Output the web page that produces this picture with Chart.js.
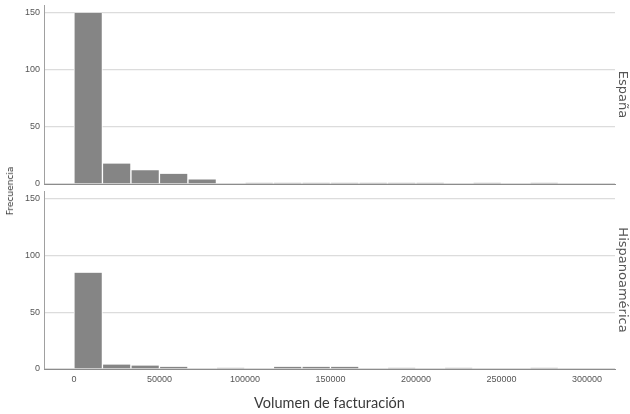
<!DOCTYPE html>
<html>
<head>
<meta charset="utf-8">
<script src="https://cdn.jsdelivr.net/npm/chart.js@4/dist/chart.umd.min.js"></script>
<style>
  html, body { margin: 0; padding: 0; background: #fff; }
  #wrap { position: relative; width: 630px; height: 414px; overflow: hidden; }
  #top { position: absolute; left: 0; top: 0; }
  #bottom { position: absolute; left: 0; top: 190px; }
  #ylabel {
    position: absolute; left: 10px; top: 191px;
    transform: translate(-50%, -50%) rotate(-90deg);
    font: 9px "DejaVu Sans", sans-serif; color: #333; white-space: nowrap;
  }
</style>
</head>
<body>
<div id="wrap">
  <canvas id="top" width="630" height="190"></canvas>
  <canvas id="bottom" width="630" height="224"></canvas>
  <div id="ylabel">Frecuencia</div>
</div>
<script>
// Histogram bins of "Volumen de facturación" (lower bound of each bin)
const binLower = [0, 16667, 33333, 50000, 66667, 83333, 100000, 116667, 133333,
                  150000, 166667, 183333, 200000, 216667, 233333, 250000, 266667, 283333];
const binWidth = 16667;

// Frequencies per bin for each region
const espana = [150, 18, 12, 9, 4, 0, 1, 1, 1, 1, 1, 1, 1, 0, 1, 0, 1, 0];
const hispanoamerica = [85, 4, 3, 2, 0, 1, 0, 2, 2, 2, 0, 1, 0, 1, 0, 0, 1, 0];

const panelNames = ['España', 'Hispanoamérica'];
const xTicks = [0, 50000, 100000, 150000, 200000, 250000, 300000];
const yTicks = [0, 50, 100, 150];

const tickFont = { family: 'Liberation Sans', size: 9 };

// keep the plot area exactly where the layout padding puts it
function noLabelPadding(s) {
  s.paddingTop = 0; s.paddingBottom = 0; s.paddingLeft = 0; s.paddingRight = 0;
}

function makeChart(canvasId, values, panelName, showX, padTop) {
  return new Chart(document.getElementById(canvasId), {
    type: 'bar',
    data: {
      datasets: [{
        data: binLower.map((lo, i) => ({ x: lo + binWidth / 2, y: values[i] })),
        backgroundColor: '#858585',
        borderColor: '#ffffff',
        borderWidth: { top: 0, bottom: 0, left: 1, right: 1 },
        borderSkipped: false,
        barPercentage: 1,
        categoryPercentage: 1
      }]
    },
    options: {
      responsive: false,
      animation: false,
      layout: { padding: { top: padTop, left: 0, right: 0, bottom: 0 } },
      plugins: { legend: { display: false }, tooltip: { enabled: false } },
      scales: {
        x: {
          type: 'linear',
          min: -17500,
          max: 316400,
          offset: false,
          grid: { display: false, drawTicks: false },
          border: { display: true, color: '#8c8c8c', width: 1 },
          ticks: {
            display: showX, stepSize: 50000, color: '#555', font: tickFont,
            padding: 5, maxRotation: 0, autoSkip: false,
            callback: v => String(v)
          },
          afterBuildTicks: s => { s.ticks = xTicks.map(v => ({ value: v })); },
          title: {
            display: showX, text: 'Volumen de facturación', color: '#3a3a3a',
            font: { family: 'Lato', size: 14.5 }, padding: { top: 0, bottom: 2 }
          },
          afterFit: s => { s.height = showX ? 45 : 6; noLabelPadding(s); }
        },
        y: {
          position: 'left',
          min: 0,
          max: 157,
          grid: { color: '#dcdcdc', lineWidth: 1.3, drawTicks: false },
          border: { display: true, color: '#a0a0a0', width: 1 },
          ticks: { stepSize: 50, color: '#555', font: tickFont, padding: 4 },
          afterBuildTicks: s => { s.ticks = yTicks.map(v => ({ value: v })); },
          afterFit: s => { s.width = 44; noLabelPadding(s); }
        },
        panel: {
          axis: 'y',
          type: 'linear',
          position: 'right',
          display: true,
          grid: { display: false, drawTicks: false },
          border: { display: false },
          ticks: { display: false },
          title: {
            display: true, text: panelName, color: '#555',
            font: { family: 'DejaVu Sans', size: 13 }, padding: 0
          },
          afterFit: s => { s.width = 15; noLabelPadding(s); }
        }
      }
    }
  });
}

makeChart('top', espana, panelNames[0], false, 5);
makeChart('bottom', hispanoamerica, panelNames[1], true, 1);
</script>
</body>
</html>
